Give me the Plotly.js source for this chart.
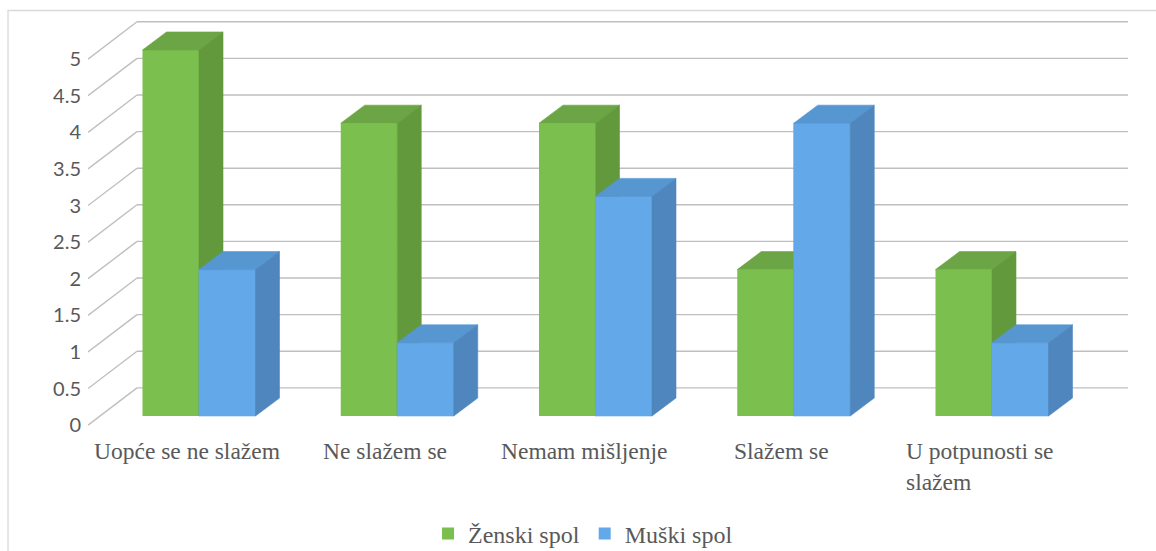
<!DOCTYPE html>
<html>
<head>
<meta charset="utf-8">
<script src="https://cdn.plot.ly/plotly-3.0.1.min.js"></script>
<style>html,body{margin:0;padding:0;background:#fff;}#chart{width:1156px;height:551px;}</style>
</head>
<body>
<div id="chart"></div>
<script>
// ---- data ----
const categories = ['Uopće se ne slažem', 'Ne slažem se', 'Nemam mišljenje', 'Slažem se', 'U potpunosti se slažem'];
const categoryLabels = ['Uopće se ne slažem', 'Ne slažem se', 'Nemam mišljenje', 'Slažem se', 'U potpunosti se<br>slažem'];
const seriesNames = ['Ženski spol', 'Muški spol'];
const zenski = [5, 4, 4, 2, 2];
const muski = [2, 1, 3, 4, 1];
const tickValues = [0, 0.5, 1, 1.5, 2, 2.5, 3, 3.5, 4, 4.5, 5];
const tickLabels = ['0', '0.5', '1', '1.5', '2', '2.5', '3', '3.5', '4', '4.5', '5'];

// ---- geometry (oblique 3D look) ----
const barW = 0.285, barDx = 0.121, barDy = 0.246;
const wallX0 = -0.3127, wallDy = 0.385, frontDy = -0.125;
const xRange = [-0.5599, 4.686], yRange = [-0.191, 5.546];
const idx = categories.map((c, i) => i);

const green = {front: '#7BBF4E', top: '#6CA545', side: '#62993C'};
const blue = {front: '#63A8E8', top: '#5696D1', side: '#4E86BD'};

function polyTrace(polys, color) {
  const x = [], y = [];
  polys.forEach(p => { p.forEach(pt => { x.push(pt[0]); y.push(pt[1]); }); x.push(p[0][0]); y.push(p[0][1]); x.push(null); y.push(null); });
  return {type: 'scatter', mode: 'lines', x: x, y: y, fill: 'toself', fillcolor: color,
          line: {color: color, width: 0.6}, hoverinfo: 'skip', showlegend: false, connectgaps: false};
}

const greenTop = idx.map(i => { const g = zenski[i]; return [[i - barW, g], [i, g], [i + barDx, g + barDy], [i - barW + barDx, g + barDy]]; });
const greenSide = idx.map(i => { const g = zenski[i]; return [[i, 0], [i, g], [i + barDx, g + barDy], [i + barDx, barDy]]; });
const blueFront = idx.map(i => { const b = muski[i]; return [[i, 0], [i + barW, 0], [i + barW, b], [i, b]]; });
const blueTop = idx.map(i => { const b = muski[i]; return [[i, b], [i + barW, b], [i + barW + barDx, b + barDy], [i + barDx, b + barDy]]; });
const blueSide = idx.map(i => { const b = muski[i]; return [[i + barW, 0], [i + barW, b], [i + barW + barDx, b + barDy], [i + barW + barDx, barDy]]; });

const traces = [
  {type: 'bar', name: seriesNames[0], x: idx.map(i => i - barW / 2), y: zenski, width: barW,
   marker: {color: green.front, line: {width: 0}}, hoverinfo: 'skip'},
  {type: 'bar', name: seriesNames[1], x: idx.map(i => i + barW / 2), y: muski, width: barW,
   marker: {color: blue.front, line: {width: 0}}, hoverinfo: 'skip'},
  polyTrace(greenTop, green.top),
  polyTrace(greenSide, green.side),
  polyTrace(blueFront, blue.front),
  polyTrace(blueTop, blue.top),
  polyTrace(blueSide, blue.side),
  {type: 'scatter', x: [null], y: [null], yaxis: 'y2', showlegend: false, hoverinfo: 'skip', mode: 'markers'}
];

// gridlines on back wall + diagonals on side wall
const gridColor = '#BFBFBF';
const shapes = [];
tickValues.forEach(v => {
  shapes.push({type: 'line', xref: 'x', yref: 'y', x0: wallX0, x1: xRange[1], y0: v + wallDy, y1: v + wallDy,
               line: {color: gridColor, width: 1.4}, layer: 'below'});
  shapes.push({type: 'line', xref: 'x', yref: 'y', x0: xRange[0], x1: wallX0, y0: v + frontDy, y1: v + wallDy,
               line: {color: gridColor, width: 1.4}, layer: 'below'});
});
// outer chart border
shapes.push({type: 'rect', xref: 'paper', yref: 'paper', x0: -0.0769, x1: 1.04, y0: -0.31, y1: 0.9988,
             line: {color: '#D9D9D9', width: 1.3}, fillcolor: 'rgba(0,0,0,0)', layer: 'below'});

const annotations = idx.map(i => ({
  x: i - 0.06, xref: 'x', y: -0.014, yref: 'paper', xanchor: 'center', yanchor: 'top',
  text: categoryLabels[i], showarrow: false, align: 'left',
  font: {family: 'Liberation Serif, Times New Roman, serif', size: 23.5, color: '#595959'}
}));

const layout = {
  width: 1156, height: 551,
  margin: {l: 88, r: 28, t: 10, b: 121, autoexpand: false},
  paper_bgcolor: '#FFFFFF', plot_bgcolor: 'rgba(0,0,0,0)',
  barmode: 'overlay',
  showlegend: true,
  legend: {orientation: 'h', x: 0.476, xanchor: 'center', y: -0.2476, yanchor: 'middle',
           font: {family: 'Liberation Serif, Times New Roman, serif', size: 24, color: '#595959'},
           itemsizing: 'constant', traceorder: 'normal'},
  xaxis: {range: xRange, showgrid: false, zeroline: false, showline: false, showticklabels: false, ticks: '', fixedrange: true},
  yaxis: {range: yRange, showgrid: false, zeroline: false, showline: false, showticklabels: false, ticks: '', fixedrange: true},
  yaxis2: {overlaying: 'y', side: 'left', anchor: 'x', range: [yRange[0] - frontDy, yRange[1] - frontDy],
           tickmode: 'array', tickvals: tickValues, ticktext: tickLabels,
           showgrid: false, zeroline: false, showline: false, ticks: '', ticklabelstandoff: 6,
           tickfont: {family: 'Lato, Open Sans, sans-serif', size: 20, color: '#595959'}, fixedrange: true},
  shapes: shapes,
  annotations: annotations
};

Plotly.newPlot('chart', traces, layout, {displayModeBar: false, staticPlot: true});
</script>
</body>
</html>
